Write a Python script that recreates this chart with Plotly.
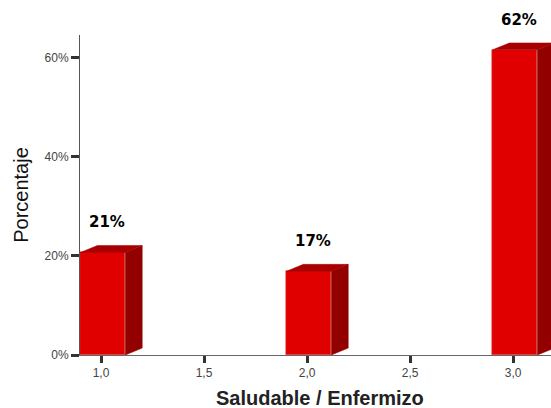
import plotly.graph_objects as go

categories = [1.0, 2.0, 3.0]
values = [20.7, 16.9, 61.6]
value_labels = ["21%", "17%", "62%"]
x_tickvals = [1.0, 1.5, 2.0, 2.5, 3.0]
x_ticktext = ["1,0", "1,5", "2,0", "2,5", "3,0"]
y_tickvals = [0, 20, 40, 60]
y_ticktext = ["0%", "20%", "40%", "60%"]

FRONT = "#e10000"
SIDE = "#930000"
TOP = "#a80000"
left_off = -0.1
bar_w = 0.218
dx = 0.082
dy = 1.4
Y_MAX = 64.6
label_dx = 0.03

fig = go.Figure()

fig.add_trace(go.Bar(
    x=categories, y=values, width=bar_w, offset=left_off,
    marker=dict(color=FRONT, line=dict(color="#f04040", width=0.5)),
    hoverinfo="skip", showlegend=False,
))

for xc, v in zip(categories, values):
    xl = xc + left_off
    xr = xl + bar_w
    fig.add_trace(go.Scatter(
        x=[xr, xr + dx, xr + dx, xr, xr], y=[0, dy, v + dy, v, 0],
        fill="toself", fillcolor=SIDE, mode="lines",
        line=dict(color=SIDE, width=0.5), hoverinfo="skip", showlegend=False,
    ))
    fig.add_trace(go.Scatter(
        x=[xl, xl + dx, xr + dx, xr, xl], y=[v, v + dy, v + dy, v, v],
        fill="toself", fillcolor=TOP, mode="lines",
        line=dict(color=TOP, width=0.5), hoverinfo="skip", showlegend=False,
    ))

for xc, v, t in zip(categories, values, value_labels):
    fig.add_annotation(
        x=xc + label_dx, y=v, yshift=30, text="<b>" + t + "</b>", showarrow=False,
        font=dict(family="DejaVu Sans, Arial Black", size=15, color="#000000"),
        xref="x", yref="y",
    )

fig.add_annotation(
    x=0.51, y=-0.135, xref="paper", yref="paper", yanchor="middle",
    text="<b>Saludable / Enfermizo</b>", showarrow=False,
    font=dict(family="Liberation Sans, Arial", size=20, color="#222222"),
)

fig.update_layout(
    width=551, height=408,
    margin=dict(l=80, r=0, t=35, b=53),
    plot_bgcolor="white", paper_bgcolor="white",
    bargap=0,
    xaxis=dict(
        range=[0.898, 3.184], tickvals=x_tickvals, ticktext=x_ticktext, automargin=False,
        showgrid=False, zeroline=False, showline=True, linecolor="#666666", linewidth=1,
        ticks="outside", ticklen=7, tickwidth=3, tickcolor="#333333",
        tickfont=dict(family="Liberation Sans, Arial", size=12, color="#444444"),
    ),
    yaxis=dict(
        range=[0, Y_MAX], tickvals=y_tickvals, ticktext=y_ticktext, automargin=False,
        showgrid=False, zeroline=False, showline=True, linecolor="#555555", linewidth=1,
        ticks="outside", ticklen=8, tickwidth=3, tickcolor="#333333",
        tickfont=dict(family="Liberation Sans, Arial", size=12, color="#444444"),
        title=dict(text="Porcentaje", standoff=10,
                   font=dict(family="Liberation Sans Narrow, Arial Narrow, Liberation Sans", size=20, color="#111111")),
    ),
)

fig.write_html(
    "out.html",
    config={"displayModeBar": False},
    post_script="document.body.style.margin='0';document.body.style.overflow='hidden';",
)
